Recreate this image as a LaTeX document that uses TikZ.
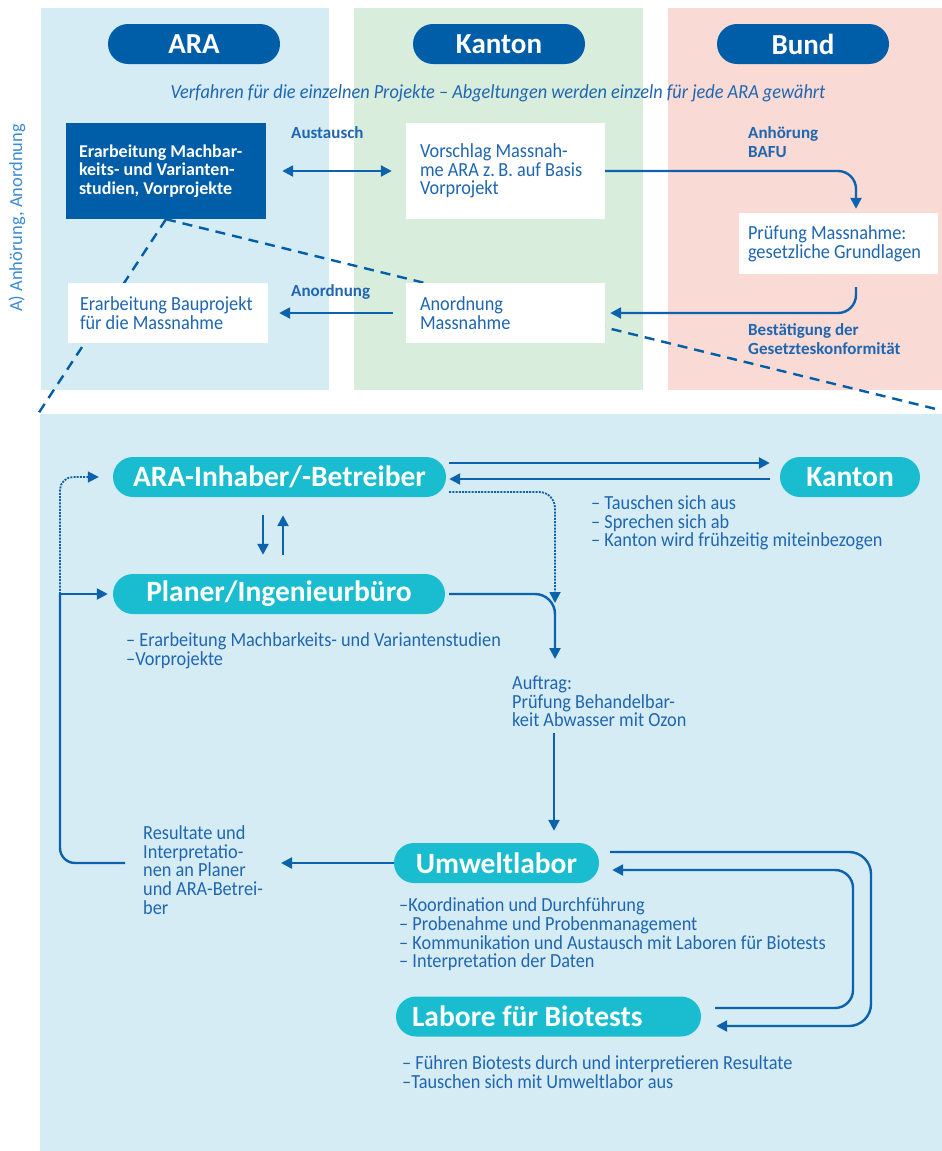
\documentclass[tikz,border=0pt]{standalone}
\usepackage{fontspec}
\setmainfont{Carlito}[FakeStretch=0.915]
\newfontfamily\plainfont{Carlito}
\usetikzlibrary{arrows.meta}

\definecolor{arablue}{HTML}{D5ECF5}
\definecolor{kantongreen}{HTML}{D9EDDD}
\definecolor{bundred}{HTML}{FADAD4}
\definecolor{darkblue}{HTML}{005EA8}
\definecolor{pillcyan}{HTML}{1ABDCF}
\definecolor{txtblue}{HTML}{1F66B1}
\definecolor{lightblue}{HTML}{3D8BD4}
\definecolor{lineblue}{HTML}{0C62AD}

\tikzset{
  >={Triangle[length=11pt,width=11pt]},
  header/.style={fill=darkblue, text=white, rounded corners=20pt, minimum width=172pt, minimum height=40pt, inner sep=0pt, font=\plainfont\fontsize{29}{30}\selectfont\bfseries},
  box/.style={fill=white, text=txtblue, align=flush left, inner xsep=14pt, inner ysep=0pt, text width=171pt, minimum height=60pt, font=\fontsize{20}{18.6}\selectfont},
  flowlabel/.style={text=txtblue, anchor=west, align=left, inner sep=0pt, font=\plainfont\fontsize{17}{19.5}\selectfont\bfseries},
  pill/.style={fill=pillcyan, text=white, rounded corners=20pt, minimum height=40pt, inner ysep=0pt, font=\plainfont\fontsize{29.5}{30}\selectfont\bfseries},
  bullets/.style={text=txtblue, anchor=west, align=left, inner sep=0pt, font=\fontsize{20}{18.6}\selectfont},
  conn/.style={draw=lineblue, line width=2.4pt, ->},
  dotconn/.style={draw=lineblue, line width=1.8pt, dash pattern=on 2pt off 1.2pt, ->},
  sketchdash/.style={draw=darkblue, line width=2.4pt, dash pattern=on 10pt off 7pt},
}

\begin{document}
\begin{tikzpicture}[x=1pt,y=-1pt]
\useasboundingbox (0,0) rectangle (942,1151);
\fill[arablue] (41,8) rectangle (329,390);
\fill[kantongreen] (354,8) rectangle (643,390);
\fill[bundred] (668,8) rectangle (942,390);
\fill[arablue] (40,414) rectangle (942,1151);

\node[header] (araHead) at (194,44) {ARA};
\node[header] (kantonHead) at (499,44) {Kanton};
\node[header] (bundHead) at (803,44) {Bund};

\node[text=txtblue, font=\fontsize{20}{22}\selectfont\itshape] (verfahren) at (498,93) {Verfahren für die einzelnen Projekte – Abgeltungen werden einzeln für jede ARA gewährt};
\node[rotate=90, text=lightblue, font=\plainfont\fontsize{18.5}{20}\selectfont] (phase) at (17,218) {A) Anhörung, Anordnung};

\node[box, fill=darkblue, text=white, font=\plainfont\fontsize{18}{18.7}\selectfont\bfseries, inner xsep=13pt, text width=174pt, minimum height=96pt] (studien) at (166,171) {Erarbeitung Machbar-\\keits- und Varianten-\\studien, Vorprojekte};

\coordinate (panelLeft) at (38,414);
\coordinate (panelRight) at (940,410);
\draw[sketchdash] (studien.south) -- (panelLeft);
\draw[sketchdash] (studien.south) -- (panelRight);

\node[box, minimum height=96pt] (vorschlag) at (505.5,171) {Vorschlag Massnah-\\me ARA z.\,B. auf Basis\\Vorprojekt};
\node[box, inner xsep=9pt, text width=181pt, minimum height=61pt] (pruefung) at (838.5,243.5) {Prüfung Massnahme:\\gesetzliche Grundlagen};
\node[box] (anordnung) at (505.5,313) {Anordnung\\Massnahme};
\node[box, inner xsep=12pt, text width=176pt] (bauprojekt) at (168,313) {Erarbeitung Bauprojekt\\für die Massnahme};

\node[flowlabel] (austausch) at (291,133) {Austausch};
\node[flowlabel] (anordnungLabel) at (291,292) {Anordnung};
\node[flowlabel] (anhoerung) at (748,142) {Anhörung\\BAFU};
\node[flowlabel] (bestaetigung) at (748,339) {Bestätigung der\\Gesetzteskonformität};

\draw[conn, <->, shorten <=16pt, shorten >=14pt] (studien.east) -- (vorschlag.west);
\draw[conn, rounded corners=18pt, shorten >=4pt] (vorschlag.east) -| ([xshift=17.5pt]pruefung.north);
\draw[conn, rounded corners=18pt, shorten >=5pt] ([xshift=17.5pt,yshift=-13pt]pruefung.south) |- (anordnung.east);
\draw[conn, shorten <=13pt, shorten >=11pt] (anordnung.west) -- (bauprojekt.east);

\node[pill, minimum width=333pt] (inhaber) at (279.5,477) {ARA-Inhaber/-Betreiber};
\node[pill, minimum width=140pt] (kantonPill) at (850,477) {Kanton};
\node[pill, minimum width=332pt] (planer) at (279,594) {Planer/Ingenieurbüro};
\node[pill, minimum width=205pt] (umwelt) at (496.5,863) {Umweltlabor};
\node[pill, text width=273pt, inner xsep=16pt, align=flush left] (labore) at (548.5,1016.5) {Labore für Biotests};

\node[bullets] (kantonList) at (591,523) {– Tauschen sich aus\\– Sprechen sich ab\\– Kanton wird frühzeitig miteinbezogen};
\node[bullets] (planerList) at (126,651) {– Erarbeitung Machbarkeits- und Variantenstudien\\–Vorprojekte};
\node[bullets] (auftrag) at (512,701.5) {Auftrag:\\Prüfung Behandelbar-\\keit Abwasser mit Ozon};
\node[bullets] (resultate) at (143,870) {Resultate und\\Interpretatio-\\nen an Planer\\und ARA-Betrei-\\ber};
\node[bullets] (umweltList) at (399,934.5) {–Koordination und Durchführung\\– Probenahme und Probenmanagement\\– Kommunikation und Austausch mit Laboren für Biotests\\– Interpretation der Daten};
\node[bullets] (laboreList) at (402,1072) {– Führen Biotests durch und interpretieren Resultate\\–Tauschen sich mit Umweltlabor aus};

\coordinate (dotMerge) at (555,603);
\coordinate (auftragIn) at (555,659);
\coordinate (auftragOut) at (554,733);
\coordinate (resultateIn) at (281,863);
\coordinate (resultateOut) at (125,863);
\coordinate (loopJoin) at (60,594);
\coordinate (outerLoop) at (871,940);
\coordinate (innerLoop) at (853,940);

\draw[conn, shorten <=3pt, shorten >=10pt] ([yshift=14pt]inhaber.east) -- ([yshift=14pt]kantonPill.west);
\draw[conn, shorten <=10pt, shorten >=3pt] ([yshift=-2pt]kantonPill.west) -- ([yshift=-2pt]inhaber.east);
\draw[dotconn, rounded corners=16pt, shorten <=3pt] ([yshift=-15pt]inhaber.east) -| (dotMerge);
\draw[conn, shorten <=18pt, shorten >=19pt] ([xshift=-16.5pt]inhaber.south) -- ([xshift=-16pt]planer.north);
\draw[conn, shorten <=19pt, shorten >=18pt] ([xshift=4pt]planer.north) -- ([xshift=3.5pt]inhaber.south);
\draw[conn, rounded corners=20pt, shorten <=4pt] (planer.east) -| (auftragIn);
\draw[conn, shorten >=12pt] (auftragOut) -- (auftragOut |- umwelt.north);
\draw[conn] (umwelt.west) -- (resultateIn);
\draw[conn, -, rounded corners=15pt] (resultateOut) -| (loopJoin);
\draw[conn, shorten >=5pt] (loopJoin) -- (planer.west);
\draw[dotconn, rounded corners=13pt, shorten >=14pt] (loopJoin) |- (inhaber.west);
\draw[conn, rounded corners=22pt, shorten <=11pt, shorten >=15pt] ([yshift=11pt]umwelt.east) -| (outerLoop) |- ([yshift=-9.5pt]labore.east);
\draw[conn, rounded corners=18pt, shorten <=14pt, shorten >=13pt] ([yshift=8.5pt]labore.east) -| (innerLoop) |- ([yshift=-7pt]umwelt.east);
\end{tikzpicture}
\end{document}
